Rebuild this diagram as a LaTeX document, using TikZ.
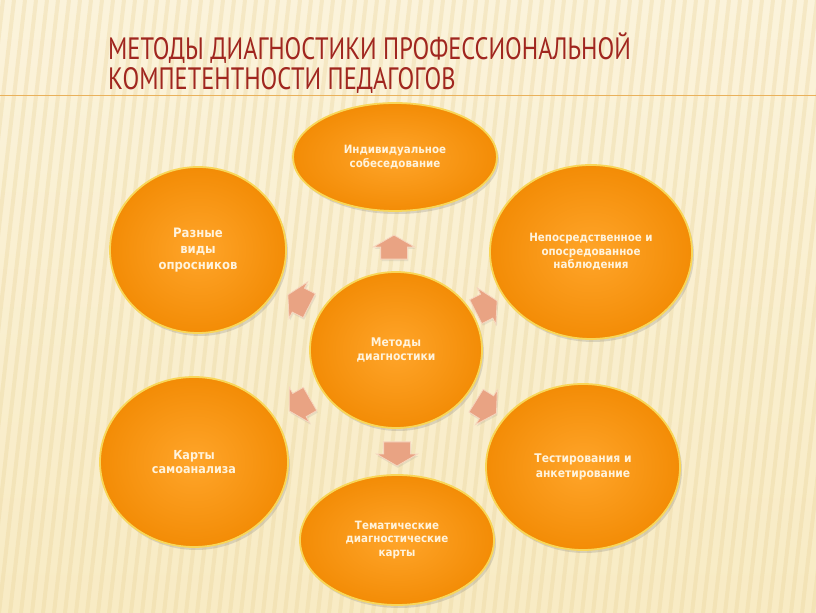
\documentclass[tikz,border=0pt]{standalone}
\usepackage{fontspec}
\setmainfont{DejaVu Sans}
\newfontfamily\titlefont[FakeStretch=0.79]{PT Sans}
\newfontfamily\labelfont[FakeStretch=0.9]{DejaVu Sans}
\usepackage{xcolor}
\definecolor{paper}{HTML}{F8EBC4}
\definecolor{papertop}{HTML}{FBF3DB}
\definecolor{stripe}{HTML}{EAD59C}
\definecolor{titlered}{HTML}{A0261F}
\definecolor{rule}{HTML}{E9B15C}
\definecolor{orangelight}{HTML}{FFA52A}
\definecolor{orangedeep}{HTML}{F38C06}
\definecolor{rim}{HTML}{F8D658}
\definecolor{cream}{HTML}{FFF3DC}
\definecolor{salmon}{HTML}{E9A383}
\definecolor{salmonrim}{HTML}{F6D6BF}
\tikzstyle{method} = [ellipse, draw=rim, line width=1.8pt, inner color=orangelight, outer color=orangedeep, text=cream, align=center, inner sep=0pt, drop shadow={opacity=0.25, shadow xshift=2bp, shadow yshift=-3bp}, font=\labelfont\bfseries\fontsize{11.5}{13.5}\selectfont]
\tikzstyle{pointer} = [single arrow, single arrow head extend=7bp, single arrow tip angle=120, inner xsep=0pt, inner ysep=13bp, minimum height=24bp, fill=salmon, draw=salmonrim, line width=0.8pt, drop shadow={opacity=0.15, shadow xshift=1bp, shadow yshift=-2bp}]
\usetikzlibrary{positioning, shapes.geometric, shapes.arrows, shadows}

\begin{document}
\begin{tikzpicture}[x=1bp, y=1bp]
	%background
	\useasboundingbox (0,0) rectangle (816,613);
	\shade[top color=papertop, bottom color=paper] (0,0) rectangle (816,613);
	\begin{scope}
		\clip (0,0) rectangle (816,613);
		\foreach \x in {-100,-89,...,900}
			\draw[stripe, line width=4bp, opacity=0.35] (\x,0) -- (\x+70,613);
	\end{scope}

	%title
	\node[anchor=base west, inner sep=0pt, text=titlered, font=\titlefont\fontsize{31}{31}\selectfont] (title1) at (108,553) {МЕТОДЫ ДИАГНОСТИКИ ПРОФЕССИОНАЛЬНОЙ};
	\node[anchor=base west, inner sep=0pt, text=titlered, font=\titlefont\fontsize{31}{31}\selectfont] (title2) at (108,523) {КОМПЕТЕНТНОСТИ ПЕДАГОГОВ};
	\coordinate (ruleleft) at (0,518);
	\coordinate (ruleright) at (816,518);
	\draw[rule, line width=0.8bp] (ruleleft) -- (ruleright);

	%diagram
	\node[method, minimum width=172bp, minimum height=156bp, font=\labelfont\bfseries\fontsize{12}{14}\selectfont] (methods) at (396,263) {Методы\\диагностики};
	\node[method, minimum width=204bp, minimum height=108bp] (interview) at (395,456) {Индивидуальное\\собеседование};
	\node[method, minimum width=202bp, minimum height=174bp] (observation) at (591,361) {Непосредственное и\\опосредованное\\наблюдения};
	\node[method, minimum width=194bp, minimum height=166bp, font=\labelfont\bfseries\fontsize{12}{14.5}\selectfont] (testing) at (583,146) {Тестирования и\\анкетирование};
	\node[method, minimum width=194bp, minimum height=130bp] (thematic) at (397,73) {Тематические\\диагностические\\карты};
	\node[method, minimum width=188bp, minimum height=170bp, font=\labelfont\bfseries\fontsize{12.5}{14.5}\selectfont] (selfmaps) at (194,151) {Карты\\самоанализа};
	\node[method, minimum width=176bp, minimum height=166bp, font=\labelfont\bfseries\fontsize{13}{16}\selectfont] (surveys) at (198,363) {Разные\\виды\\опросников};

	%pointers
	\node[pointer, rotate=90] (p1) at (394,362) {};
	\node[pointer, rotate=27] (p2) at (483,305) {};
	\node[pointer, rotate=328] (p3) at (483,208) {};
	\node[pointer, rotate=270] (p4) at (397,163) {};
	\node[pointer, rotate=210] (p5) at (303,210) {};
	\node[pointer, rotate=153] (p6) at (302,311) {};
\end{tikzpicture}
\end{document}
